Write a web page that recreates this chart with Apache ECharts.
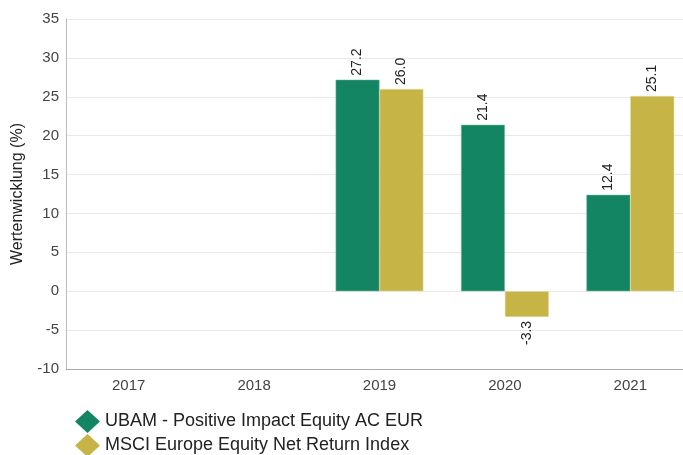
<!DOCTYPE html>
<html><head><meta charset="utf-8">
<script src="https://cdn.jsdelivr.net/npm/echarts@6/dist/echarts.min.js"></script>
<style>html,body{margin:0;padding:0;background:#fff}#c{width:683px;height:455px}</style>
</head><body><div id="c"></div>
<script>
const categories = ['2017','2018','2019','2020','2021'];
const fundName = 'UBAM - Positive Impact Equity AC EUR';
const indexName = 'MSCI Europe Equity Net Return Index';
const fundValues = [null, null, 27.2, 21.4, 12.4];
const indexValues = [null, null, 26.0, -3.3, 25.1];
const yTicks = {min: -10, max: 35, interval: 5};

const FONT = 'Liberation Sans, Arial, sans-serif';
function mkData(vals){
  return vals.map(v => {
    if (v === null) return null;
    if (v < 0) return {value: v, label: {position: 'bottom', align: 'right', distance: 4}};
    return v;
  });
}
const labelCfg = {show: true, position: 'top', rotate: 90, align: 'left', verticalAlign: 'middle', distance: 4,
  fontFamily: FONT, fontSize: 14, color: '#222', formatter: p => p.value.toFixed(1)};
const legendBase = {
  orient: 'vertical', left: 70, itemWidth: 25, itemHeight: 23, itemGap: 0,
  icon: 'diamond', itemStyle: {borderWidth: 0},
  textStyle: {fontSize: 18, color: '#222', fontFamily: FONT}
};

const chart = echarts.init(document.getElementById('c'));
chart.setOption({
  animation: false,
  textStyle: {fontFamily: FONT},
  grid: {left: 66, top: 19, width: 627, height: 350, containLabel: false, outerBoundsMode: 'none'},
  legend: [
    Object.assign({}, legendBase, {top: 405, data: [fundName]}),
    Object.assign({}, legendBase, {top: 429, data: [indexName]})
  ],
  xAxis: {
    type: 'category', data: categories,
    axisLine: {show: true, onZero: false, lineStyle: {color: '#aaa'}},
    axisTick: {show: false},
    axisLabel: {fontSize: 15, color: '#444', margin: 9, fontFamily: FONT}
  },
  yAxis: {
    type: 'value', min: yTicks.min, max: yTicks.max, interval: yTicks.interval,
    name: 'Wertenwicklung (%)', nameLocation: 'middle', nameGap: 40, nameRotate: 90,
    nameTextStyle: {fontSize: 16, color: '#222', fontFamily: FONT},
    axisLine: {show: true, lineStyle: {color: '#bbb'}},
    axisTick: {show: false},
    axisLabel: {fontSize: 15, color: '#444', margin: 7, fontFamily: FONT},
    splitLine: {lineStyle: {color: '#e8e8e8'}}
  },
  series: [
    {name: fundName, type: 'bar', data: mkData(fundValues), barGap: '0%', barCategoryGap: '30%',
     itemStyle: {color: '#138562', borderColor: '#7fc2ac', borderWidth: 0.5}, label: labelCfg},
    {name: indexName, type: 'bar', data: mkData(indexValues),
     itemStyle: {color: '#c6b447', borderColor: '#e6dca0', borderWidth: 0.5}, label: labelCfg}
  ]
});
</script></body></html>
